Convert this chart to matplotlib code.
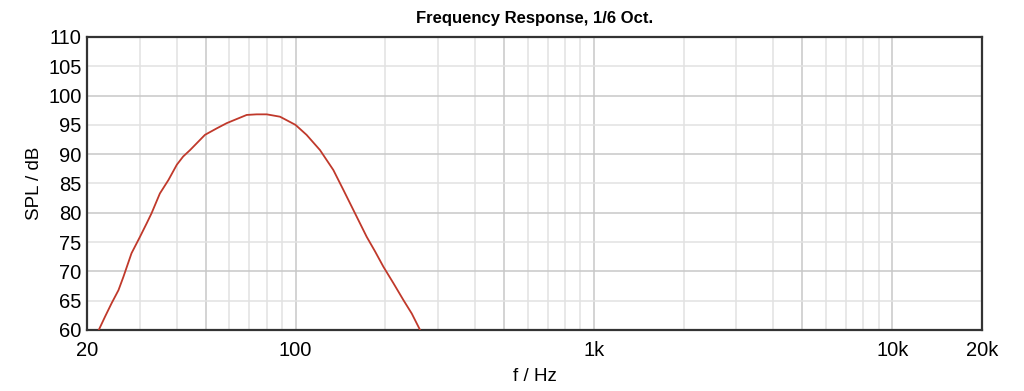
import numpy as np
import matplotlib
matplotlib.use("Agg")
import matplotlib.pyplot as plt
from matplotlib.ticker import FixedLocator, NullFormatter

plt.rcParams['font.family'] = ['Liberation Sans', 'DejaVu Sans']

freq_hz = [21.9, 23.0, 24.2, 25.5, 26.5, 28.2, 30.1, 31.7, 32.9, 35.1, 37.5,
           40.0, 42.0, 44.3, 49.7, 54.4, 58.8, 63.5, 68.6, 74.1, 80.1, 88.7,
           93.4, 100.0, 108.9, 120.8, 133.9, 144.7, 156.2, 173.2, 184.8,
           197.0, 212.8, 230.0, 245.3, 261.5]
spl_db = [60.0, 62.3, 64.6, 66.8, 69.1, 73.1, 75.9, 78.2, 79.9, 83.3, 85.6,
          88.2, 89.6, 90.7, 93.3, 94.4, 95.3, 96.0, 96.7, 96.8, 96.8, 96.4,
          95.8, 95.0, 93.3, 90.7, 87.3, 83.9, 80.5, 75.9, 73.4,
          70.8, 68.0, 65.1, 62.8, 60.0]

x_tick_vals = [20, 100, 1000, 10000, 20000]
x_tick_labels = ["20", "100", "1k", "10k", "20k"]
y_tick_vals = list(range(60, 111, 5))

fig = plt.figure(figsize=(10.24, 3.91), dpi=100)
ax = fig.add_axes([87/1024, 1 - 330/391, (982-87)/1024, (330-37)/391])

ax.set_xscale('log')
ax.set_xlim(20, 20000)
ax.set_ylim(60, 110)

# grid lines
dark = [50, 100, 500, 1000, 5000, 10000]
for dec in [10, 100, 1000, 10000]:
    for m in range(1, 10):
        f = dec * m
        if f <= 20 or f >= 20000:
            continue
        col = '#c8c8c8' if f in dark else '#e2e2e2'
        ax.axvline(f, color=col, lw=1.1, zorder=0)
for y in y_tick_vals[1:-1]:
    col = '#c8c8c8' if y % 10 == 0 else '#e2e2e2'
    ax.axhline(y, color=col, lw=1.1, zorder=0)

ax.plot(freq_hz, spl_db, color='#c0392b', lw=1.3, zorder=3,
        solid_joinstyle='round')

ax.xaxis.set_major_locator(FixedLocator(x_tick_vals))
ax.set_xticklabels(x_tick_labels)
ax.xaxis.set_minor_locator(FixedLocator([]))
ax.xaxis.set_minor_formatter(NullFormatter())
ax.set_yticks(y_tick_vals)
ax.tick_params(axis='both', length=0, labelsize=14.5, pad=4)
ax.tick_params(axis='x', pad=8)

for s in ax.spines.values():
    s.set_color('#333333')
    s.set_linewidth(1.6)

ax.set_title("Frequency Response, 1/6 Oct.", fontsize=12, fontweight='bold', pad=10)
ax.set_xlabel("f / Hz", fontsize=13.5, labelpad=6)
ax.set_ylabel("SPL / dB", fontsize=13.5, labelpad=4)

fig.savefig("out.png", dpi=100)
